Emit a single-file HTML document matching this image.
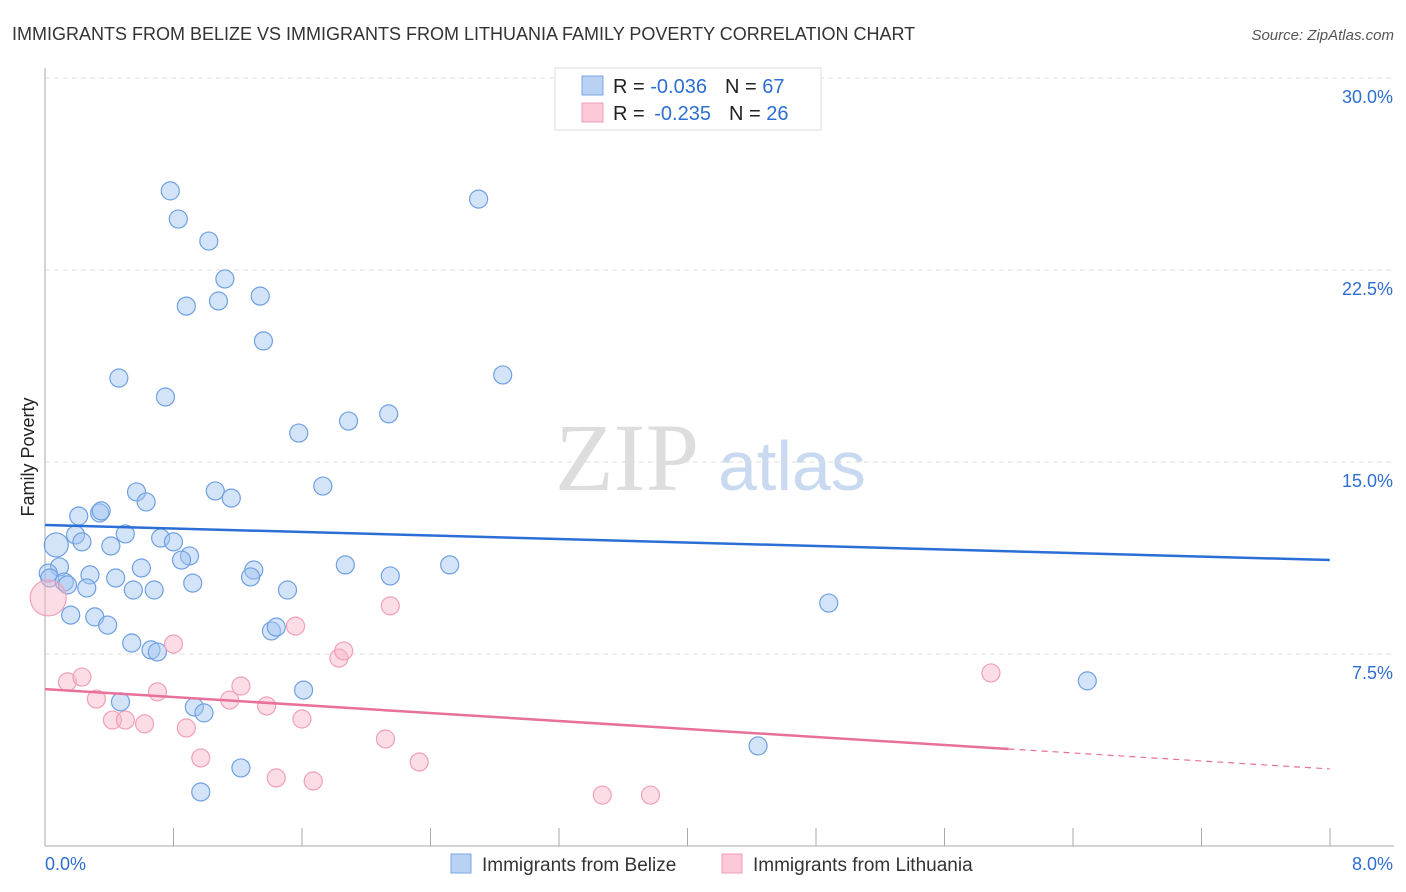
<!DOCTYPE html>
<html><head><meta charset="utf-8"><style>
body{margin:0;background:#fff;font-family:"Liberation Sans",sans-serif}
#wrap{position:relative;width:1406px;height:892px;overflow:hidden}
</style></head><body>
<div id="wrap">
<svg id="chart" width="1406" height="892">
<text x="12" y="40" font-size="18" fill="#333">IMMIGRANTS FROM BELIZE VS IMMIGRANTS FROM LITHUANIA FAMILY POVERTY CORRELATION CHART</text>
<text x="1394" y="40" font-size="15" fill="#555" font-style="italic" text-anchor="end">Source: ZipAtlas.com</text>
<text x="34" y="457" font-size="18" fill="#222" text-anchor="middle" transform="rotate(-90 34 457)">Family Poverty</text>
<g><text x="555" y="490" font-size="96" fill="#ddd" font-family="Liberation Serif,serif">ZIP</text><text x="718" y="490" font-size="70" fill="#c9daf0">atlas</text></g>
<g id="grid"></g>
<g id="axes"></g>
<g id="pts"></g>
<g id="lines"></g>
<g>
<rect x="555" y="68" width="266" height="62" fill="#fff" stroke="#ddd"/>
<rect x="582" y="76" width="21" height="19" fill="#b9d2f3" stroke="#7aa7e6"/>
<rect x="582" y="103" width="21" height="19" fill="#fbc9d8" stroke="#f09bb6"/>
<text x="613" y="93" font-size="20" fill="#222">R = <tspan fill="#2d6fd1">-0.036</tspan><tspan dx="18">N = </tspan><tspan fill="#2d6fd1">67</tspan></text>
<text x="613" y="120" font-size="20" fill="#222">R = <tspan fill="#2d6fd1" dx="4">-0.235</tspan><tspan dx="18">N = </tspan><tspan fill="#2d6fd1">26</tspan></text>
</g>
<g>
<rect x="451" y="854" width="20" height="19" fill="#b9d2f3" stroke="#7aa7e6"/>
<text x="482" y="871" font-size="19" fill="#333">Immigrants from Belize</text>
<rect x="722" y="854" width="20" height="19" fill="#fbc9d8" stroke="#f09bb6"/>
<text x="753" y="871" font-size="19" fill="#333">Immigrants from Lithuania</text>
</g>
</svg>
</div>
<script>
const blueX=[0.78,0.83,1.02,1.12,0.88,1.08,1.34,1.36,0.46,0.75,2.70,2.85,1.58,1.89,2.14,1.73,0.57,0.63,1.06,1.16,0.21,0.34,0.35,0.50,0.72,0.80,0.19,0.23,0.07,0.41,0.90,0.85,1.30,1.87,2.52,2.15,1.28,0.60,0.28,0.09,0.02,0.03,0.12,0.14,0.44,0.26,0.55,0.68,0.92,1.51,0.16,0.31,0.39,0.54,0.66,0.70,1.41,1.44,4.88,6.49,1.61,0.47,0.93,0.99,1.22,4.44,0.97];
const blueY=[25.59,24.49,23.63,22.15,21.09,21.29,21.48,19.73,18.28,17.54,25.27,18.40,16.13,16.60,16.88,14.06,13.83,13.44,13.87,13.59,12.89,13.01,13.09,12.19,12.03,11.88,12.15,11.88,11.76,11.72,11.33,11.17,10.78,10.98,10.98,10.55,10.51,10.86,10.59,10.90,10.66,10.47,10.31,10.20,10.47,10.08,10.00,10.00,10.27,10.00,9.02,8.95,8.63,7.93,7.66,7.58,8.40,8.55,9.49,6.45,6.09,5.63,5.43,5.20,3.05,3.91,2.11];
const pinkX=[0.02,0.14,0.23,0.32,0.42,0.50,0.62,0.70,0.80,0.88,0.97,1.15,1.22,1.38,1.44,1.56,1.60,1.67,1.83,1.86,2.12,2.15,2.33,3.47,3.77,5.89];
const pinkY=[9.69,6.41,6.60,5.74,4.92,4.92,4.77,6.02,7.89,4.61,3.44,5.70,6.25,5.47,2.66,8.59,4.96,2.54,7.34,7.62,4.18,9.38,3.28,1.99,1.99,6.76];
const blueTrend=[12.54,11.17];
const pinkTrend=[6.13,3.01];
const yTicks=[7.5,15.0,22.5,30.0];
const xTickLabels=["0.0%","8.0%"];
const NS="http://www.w3.org/2000/svg";
const sx=v=>45+v*160.6, sy=v=>846-v*25.6;
function mk(tag,attrs,parent){const e=document.createElementNS(NS,tag);for(const k in attrs)e.setAttribute(k,attrs[k]);parent.appendChild(e);return e;}
const grid=document.getElementById('grid'),axes=document.getElementById('axes'),pts=document.getElementById('pts'),lines=document.getElementById('lines');
yTicks.forEach(t=>{
 const l=mk('line',{x1:45,x2:1394,y1:sy(t),y2:sy(t),stroke:'#ddd','stroke-dasharray':'5,4'},grid);
 
 
 const tx=mk('text',{x:1393,y:sy(t)+25,'font-size':18,fill:'#2d6fd1','text-anchor':'end'},axes);
 tx.textContent=t.toFixed(1)+'%';
 
 
});
mk('line',{x1:45,x2:45,y1:68,y2:846,stroke:'#aaa'},axes);
mk('line',{x1:45,x2:1394,y1:846,y2:846,stroke:'#aaa'},axes);
for(let i=1;i<=10;i++){const xx=45+i*128.5;mk('line',{x1:xx,x2:xx,y1:828,y2:846,stroke:'#aaa'},axes);}
const xl0=mk('text',{x:45,y:870,'font-size':18,fill:'#2d6fd1'},axes);xl0.textContent=xTickLabels[0];


const xl1=mk('text',{x:1393,y:870,'font-size':18,fill:'#2d6fd1','text-anchor':'end'},axes);xl1.textContent=xTickLabels[1];


blueX.forEach((v,i)=>{
 const r=(i===28)?12:9;
 const c=mk('circle',{cx:sx(v),cy:sy(blueY[i]),r:r,fill:'rgba(160,196,240,0.45)',stroke:'#6fa0e2','stroke-width':1.2},pts);
 
 
});
pinkX.forEach((v,i)=>{
 const r=(i===0)?18:9;
 const c=mk('circle',{cx:sx(v),cy:sy(pinkY[i]),r:r,fill:'rgba(248,180,200,0.45)',stroke:'#f0a0b8','stroke-width':1.2},pts);
 
 
});
const bl=mk('line',{x1:sx(0),y1:sy(blueTrend[0]),x2:sx(8),y2:sy(blueTrend[1]),stroke:'#2b6fd6','stroke-width':2.5},lines);


const pAt=x=>pinkTrend[0]+(pinkTrend[1]-pinkTrend[0])*x/8;
const pl=mk('line',{x1:sx(0),y1:sy(pAt(0)),x2:sx(6),y2:sy(pAt(6)),stroke:'#e8709a','stroke-width':2.5},lines);


const pd=mk('line',{x1:sx(6),y1:sy(pAt(6)),x2:sx(8),y2:sy(pAt(8)),stroke:'#e8709a','stroke-width':1.2,'stroke-dasharray':'6,5'},lines);


</script>
</body></html>
